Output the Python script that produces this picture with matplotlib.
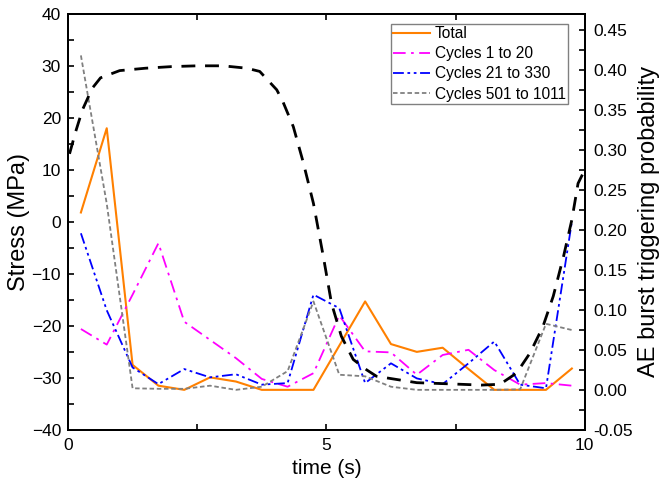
import matplotlib
matplotlib.use('Agg')
import matplotlib.pyplot as plt
from matplotlib.ticker import MultipleLocator

plt.rcParams['font.family'] = ['Liberation Sans', 'DejaVu Sans']

# stress series, sampled every 0.5 s
t = [0.25, 0.75, 1.25, 1.75, 2.25, 2.75, 3.25, 3.75, 4.25, 4.75,
     5.25, 5.75, 6.25, 6.75, 7.25, 7.75, 8.25, 8.75, 9.25, 9.75]
total = [1.8, 18.0, -27.5, -31.5, -32.3, -29.9, -30.7, -32.3, -32.3, -32.3,
         -23.8, -15.3, -23.5, -25.0, -24.2, -28.3, -32.3, -32.3, -32.3, -28.2]
cyc_1_20 = [-20.6, -23.6, -14.0, -4.1, -19.2, -22.7, -26.2, -30.2, -31.7, -29.1,
            -18.0, -24.9, -25.1, -29.4, -25.6, -24.6, -28.5, -31.3, -31.0, -31.5]
cyc_21_330 = [-2.2, -17.0, -28.0, -31.2, -28.3, -29.9, -29.3, -31.3, -31.0, -14.0,
              -16.6, -31.0, -27.2, -30.1, -31.2, -27.2, -23.0, -31.3, -32.0, 0.0]
cyc_501_1011 = [32.0, 3.5, -32.0, -32.1, -32.1, -31.5, -32.3, -31.7, -28.7, -15.3,
                -29.4, -29.7, -31.7, -32.3, -32.3, -32.3, -32.3, -32.2, -19.6, -20.8]

# AE burst triggering probability (right axis)
t_ae = [0.03, 0.15, 0.28, 0.47, 0.63, 1.0, 1.5, 2.0, 2.5, 3.0, 3.46, 3.71,
        4.04, 4.16, 4.36, 4.55, 4.75, 4.94, 5.10, 5.29, 5.52, 5.78, 5.97,
        6.75, 7.4, 8.0, 8.36, 8.68, 8.94, 9.19, 9.39, 9.59, 9.75, 9.87, 10.0]
p_ae = [0.295, 0.323, 0.350, 0.377, 0.390, 0.399, 0.402, 0.404, 0.405, 0.405, 0.402, 0.398,
        0.375, 0.360, 0.329, 0.285, 0.233, 0.167, 0.108, 0.067, 0.038, 0.025, 0.017,
        0.009, 0.0075, 0.006, 0.007, 0.021, 0.046, 0.079, 0.117, 0.167, 0.2125, 0.258, 0.275]

fig = plt.figure(figsize=(6.6, 4.93), dpi=100)
ax = fig.add_axes([0.103, 0.128, 0.783, 0.844])
ax2 = ax.twinx()

l1, = ax.plot(t, total, color='#FF8000', lw=1.5, label='Total')
l2, = ax.plot(t, cyc_1_20, color='#FF00FF', lw=1.3, dashes=[7, 3, 1.5, 3], label='Cycles 1 to 20')
l3, = ax.plot(t, cyc_21_330, color='#0000FF', lw=1.3, dashes=[6, 2, 1.5, 2, 1.5, 2], label='Cycles 21 to 330')
l4, = ax.plot(t, cyc_501_1011, color='#808080', lw=1.3, dashes=[2.5, 1.5], label='Cycles 501 to 1011')

ax2.plot(t_ae, p_ae, color='black', lw=2, dashes=[5, 3.5])

ax.set_xlim(0, 10)
ax.set_ylim(-40, 40)
ax2.set_ylim(-0.05, 0.47)

ax.xaxis.set_major_locator(MultipleLocator(5))
ax.xaxis.set_minor_locator(MultipleLocator(2.5))
ax.yaxis.set_major_locator(MultipleLocator(10))
ax.yaxis.set_minor_locator(MultipleLocator(5))
ax2.yaxis.set_major_locator(MultipleLocator(0.05))
ax2.yaxis.set_minor_locator(MultipleLocator(0.025))
ax2.yaxis.set_major_formatter(plt.FormatStrFormatter('%.2f'))

ax.tick_params(axis='x', which='both', direction='in', top=True, length=4.5, width=1.2, labelsize=12.5, pad=6)
ax.tick_params(axis='y', which='both', direction='in', right=False, length=4.5, width=1.2, labelsize=12.5, pad=5)
ax2.tick_params(axis='y', which='both', direction='in', length=4.5, width=1.2, labelsize=12.5, pad=6)

for a in (ax, ax2):
    for s in a.spines.values():
        s.set_linewidth(1.4)

ax.set_xlabel('time (s)', fontsize=15, labelpad=4)
ax.set_ylabel('Stress (MPa)', fontsize=17, labelpad=1)
ax2.set_ylabel('AE burst triggering probability', fontsize=17, labelpad=4)

leg = ax2.legend(handles=[l1, l2, l3, l4], loc='upper right', fontsize=11.2,
                 bbox_to_anchor=(0.968, 0.976), fancybox=False, edgecolor='#808080',
                 framealpha=1, handlelength=2.4, handletextpad=0.3, labelspacing=0.33,
                 borderpad=0.15, borderaxespad=0)
leg.get_frame().set_linewidth(1.0)

fig.savefig('out.png', dpi=100)
